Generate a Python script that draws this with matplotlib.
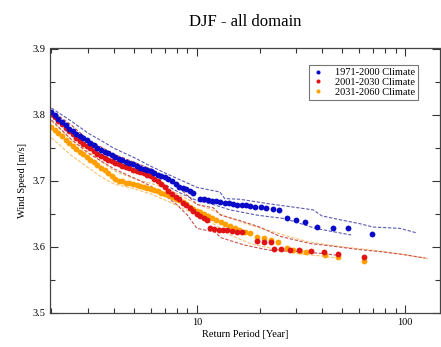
import matplotlib
matplotlib.use("Agg")
import matplotlib.pyplot as plt
from matplotlib.ticker import FixedLocator, NullFormatter, MultipleLocator

# ---------------- data ----------------
title = "DJF - all domain"
labels = ["1971-2000 Climate", "2001-2030 Climate", "2031-2060 Climate"]

# densely plotted return periods (years) shared by all series
dense_T = [2.00, 2.08, 2.16, 2.25, 2.34, 2.43, 2.53, 2.63, 2.74, 2.85, 2.96,
           3.08, 3.20, 3.33, 3.46, 3.60, 3.75, 3.90, 4.05, 4.21, 4.38, 4.56,
           4.74, 4.93, 5.13, 5.33, 5.55, 5.77, 6.00, 6.24, 6.49, 6.75, 7.02,
           7.30, 7.60, 7.90, 8.22, 8.55, 8.89, 9.25, 9.62]

blue_dense = [3.804, 3.799, 3.794, 3.789, 3.784, 3.779, 3.775, 3.771, 3.767, 3.764, 3.761,
              3.757, 3.754, 3.750, 3.747, 3.744, 3.742, 3.739, 3.736, 3.733, 3.731, 3.729,
              3.727, 3.725, 3.722, 3.720, 3.718, 3.716, 3.714, 3.711, 3.709, 3.707, 3.705,
              3.702, 3.699, 3.695, 3.691, 3.689, 3.687, 3.684, 3.682]
red_dense = [3.801, 3.796, 3.791, 3.786, 3.780, 3.775, 3.770, 3.765, 3.760, 3.756, 3.752,
             3.749, 3.745, 3.741, 3.738, 3.735, 3.732, 3.730, 3.727, 3.725, 3.723, 3.721,
             3.719, 3.717, 3.715, 3.713, 3.711, 3.709, 3.707, 3.703, 3.699, 3.695, 3.691,
             3.684, 3.680, 3.676, 3.672, 3.667, 3.663, 3.659, 3.655]
orange_dense = [3.782, 3.777, 3.772, 3.767, 3.762, 3.757, 3.752, 3.748, 3.744, 3.740, 3.736,
                3.732, 3.728, 3.724, 3.720, 3.716, 3.712, 3.707, 3.703, 3.700, 3.699, 3.697,
                3.696, 3.695, 3.693, 3.692, 3.690, 3.689, 3.688, 3.686, 3.684, 3.682, 3.680,
                3.678, 3.676, 3.673, 3.671, 3.668, 3.665, 3.661, 3.657]

# sparse points at long return periods
blue_T = [10.3, 10.8, 11.3, 11.8, 12.4, 12.9, 13.6, 14.3, 14.9, 15.6, 16.4, 17.2, 18.0,
          19.0, 20.3, 21.5, 23.1, 24.9, 27.2, 29.8, 33.2, 37.8, 45.2, 53.4, 69.0]
blue_ws = [3.673, 3.672, 3.671, 3.670, 3.669, 3.668, 3.667, 3.666, 3.665, 3.664, 3.664,
           3.663, 3.662, 3.661, 3.660, 3.659, 3.657, 3.656, 3.644, 3.641, 3.638, 3.630,
           3.628, 3.628, 3.620]
red_T = [10.0, 10.4, 10.8, 11.2, 11.6, 12.1, 12.7, 13.3, 14.0, 14.7, 15.5, 16.4, 19.4,
         20.9, 22.8, 23.5, 25.4, 28.0, 31.0, 35.3, 40.6, 47.8, 63.5]
red_ws = [3.650, 3.646, 3.643, 3.641, 3.628, 3.627, 3.626, 3.626, 3.625, 3.624, 3.623,
          3.622, 3.609, 3.608, 3.607, 3.597, 3.597, 3.596, 3.595, 3.594, 3.592, 3.589, 3.585]
orange_T = [10.0, 10.4, 10.8, 11.3, 11.8, 12.4, 13.0, 13.7, 14.4, 15.2, 16.0, 17.0, 18.0,
            19.4, 20.9, 22.8, 24.6, 27.0, 29.0, 31.2, 33.5, 41.0, 47.8, 63.5]
orange_ws = [3.655, 3.653, 3.650, 3.646, 3.643, 3.640, 3.637, 3.634, 3.632, 3.629, 3.626,
             3.623, 3.621, 3.615, 3.613, 3.610, 3.607, 3.598, 3.596, 3.594, 3.593, 3.588,
             3.585, 3.579]

# confidence bands (dashed)
blue_up_T = [2.0, 2.5, 3.0, 3.5, 4.0, 5.0, 6.0, 7.0, 8.5, 10.0, 12.9, 13.6, 16.1, 22.4,
             36.2, 39.7, 48.7, 60.7, 70.0, 94.6, 114.0]
blue_up = [3.810, 3.790, 3.772, 3.760, 3.749, 3.735, 3.722, 3.712, 3.700, 3.690, 3.683,
           3.673, 3.672, 3.665, 3.656, 3.647, 3.641, 3.635, 3.630, 3.628, 3.621]
blue_lo_T = [2.0, 2.5, 3.0, 3.5, 4.0, 5.0, 6.0, 7.0, 8.5, 10.0, 12.0, 14.4, 19.4, 26.0,
             29.6, 37.0, 55.0]
blue_lo = [3.798, 3.772, 3.752, 3.739, 3.728, 3.715, 3.704, 3.694, 3.680, 3.670, 3.664,
           3.656, 3.648, 3.643, 3.638, 3.628, 3.618]
red_up_T = [2.0, 2.5, 3.0, 4.0, 5.0, 6.0, 7.0, 8.0, 9.0, 10.0, 12.0, 13.0, 16.0, 20.0,
            25.0, 35.0, 45.0, 60.0, 80.0, 100.0, 125.0]
red_up = [3.806, 3.784, 3.762, 3.740, 3.728, 3.718, 3.706, 3.692, 3.678, 3.664, 3.659,
          3.648, 3.640, 3.630, 3.616, 3.605, 3.601, 3.596, 3.592, 3.588, 3.583]
red_lo_T = [2.0, 2.5, 3.0, 4.0, 5.0, 6.0, 7.0, 8.0, 9.0, 10.0, 12.3, 13.0, 16.8, 22.2,
            30.0, 40.0, 48.0]
red_lo = [3.792, 3.762, 3.742, 3.718, 3.704, 3.692, 3.678, 3.664, 3.648, 3.628, 3.622,
          3.614, 3.603, 3.595, 3.593, 3.590, 3.587]
orange_up_T = [2.0, 2.5, 3.0, 4.0, 5.0, 6.0, 7.0, 8.0, 9.0, 10.0, 12.0, 14.0, 18.0, 22.0,
               28.0, 35.0, 50.0, 70.0, 100.0, 130.0]
orange_up = [3.790, 3.762, 3.744, 3.715, 3.703, 3.696, 3.690, 3.681, 3.672, 3.665, 3.655,
             3.645, 3.633, 3.625, 3.615, 3.607, 3.600, 3.595, 3.588, 3.582]
orange_lo_T = [2.0, 2.5, 3.0, 3.5, 4.0, 5.0, 6.0, 7.5, 9.0, 10.3, 12.0, 14.0, 18.0, 25.0,
               30.0, 40.0, 48.0]
orange_lo = [3.765, 3.738, 3.720, 3.705, 3.695, 3.688, 3.680, 3.667, 3.655, 3.644, 3.635,
             3.620, 3.605, 3.595, 3.590, 3.586, 3.583]

# ---------------- styling ----------------
c_blue, c_red, c_orange = "#0a0ac8", "#e01414", "#ffa000"
c_blue_b, c_red_b, c_orange_b = "#5a5ab4", "#c85050", "#f5c070"
serif = ["Liberation Serif", "DejaVu Serif"]
plt.rcParams["font.family"] = serif

fig = plt.figure(figsize=(4.41, 3.47), dpi=100)
ax = fig.add_axes([50 / 441, 1 - 313 / 347, 390 / 441, 264.5 / 347])

band_kw = dict(lw=0.8, ls=(0, (3, 1.5)))
ax.plot(orange_up_T, orange_up, color=c_orange_b, **band_kw)
ax.plot(orange_lo_T, orange_lo, color=c_orange_b, **band_kw)
ax.plot(red_up_T, red_up, color=c_red_b, **band_kw)
ax.plot(red_lo_T, red_lo, color=c_red_b, **band_kw)
ax.plot(blue_up_T, blue_up, color=c_blue_b, **band_kw)
ax.plot(blue_lo_T, blue_lo, color=c_blue_b, **band_kw)

ms = 4.2
series = [
    (dense_T + orange_T, orange_dense + orange_ws, c_orange, labels[2]),
    (dense_T + red_T, red_dense + red_ws, c_red, labels[1]),
    (dense_T + blue_T, blue_dense + blue_ws, c_blue, labels[0]),
]
handles = {}
for T, ws, col, lab in series:
    h, = ax.plot(T, ws, ls="none", marker="o", ms=ms, mew=0, color=col, label=lab)
    handles[lab] = h

ax.set_xscale("log")
ax.set_xlim(1.97, 147)
ax.set_ylim(3.5, 3.9)
ax.xaxis.set_major_locator(FixedLocator([10, 100]))
ax.set_xticklabels(["10", "100"])
ax.xaxis.set_minor_locator(FixedLocator([2, 3, 4, 5, 6, 7, 8, 9, 20, 30, 40, 50, 60, 70, 80, 90]))
ax.xaxis.set_minor_formatter(NullFormatter())
ax.yaxis.set_major_locator(MultipleLocator(0.1))
ax.yaxis.set_minor_locator(MultipleLocator(0.05))
ax.set_yticklabels([f"{v:.1f}" for v in ax.get_yticks()])
ax.tick_params(which="both", direction="in", top=True, right=True, labelsize=7.5,
               width=0.8, colors="#333333", labelcolor="black")
ax.tick_params(which="major", length=6)
ax.tick_params(which="minor", length=3.5)
for s in ax.spines.values():
    s.set_linewidth(0.9)
    s.set_color("#444444")

ax.set_xlabel("Return Period [Year]", fontsize=7.5, labelpad=2)
ax.set_ylabel("Wind Speed [m/s]", fontsize=7.5, labelpad=4)
fig.text(245 / 441, 1 - 22 / 347, title, ha="center", va="center", fontsize=12)

leg = ax.legend([handles[l] for l in labels], labels, loc="upper right",
                bbox_to_anchor=(0.944, 0.938), borderaxespad=0, fontsize=7.5,
                frameon=True, fancybox=False, markerscale=0.7, handlelength=1.2,
                handletextpad=1.0, borderpad=0.3, labelspacing=0.05)
leg.get_frame().set_edgecolor("#555555")
leg.get_frame().set_linewidth(0.8)

fig.savefig("out.png", dpi=100)
